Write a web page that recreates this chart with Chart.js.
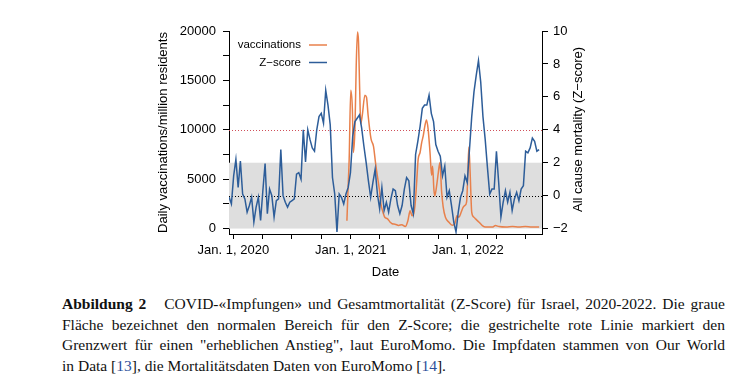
<!DOCTYPE html>
<html>
<head>
<meta charset="utf-8">
<script src="https://cdn.jsdelivr.net/npm/chart.js@4.4.1/dist/chart.umd.min.js"></script>
<style>
body { margin: 0; background: #fff; width: 730px; height: 376px; overflow: hidden; position: relative; }
#wrap { position: absolute; left: 0; top: 0; width: 730px; height: 290px; }
#cap { position: absolute; left: 62px; top: 294px; width: 663px; font-family: "Liberation Serif", serif; font-size: 15.5px; line-height: 20.7px; color: #111; }
#cap .l { text-align: justify; text-align-last: justify; white-space: nowrap; }
#cap .ref { color: #2a4f9a; }
</style>
</head>
<body>
<div id="wrap"><canvas id="mycanvas" width="730" height="290"></canvas></div>
<div id="cap">
<div class="l"><b>Abbildung 2</b>&nbsp;&nbsp; COVID-«Impfungen» und Gesamtmortalität (Z-Score) für Israel, 2020-2022. Die graue</div>
<div class="l">Fläche bezeichnet den normalen Bereich für den Z-Score; die gestrichelte rote Linie markiert den</div>
<div class="l">Grenzwert für einen "erheblichen Anstieg", laut EuroMomo. Die Impfdaten stammen von Our World</div>
<div>in Data [<span class="ref">13</span>], die Mortalitätsdaten Daten von EuroMomo [<span class="ref">14</span>].</div>
</div>
<script>
// days counted from Jan. 1, 2020
var xTickDays = [0, 91, 182, 274, 366, 456, 547, 639, 731, 821, 912];
var xTickLabels = ['Jan. 1, 2020', '', '', '', 'Jan. 1, 2021', '', '', '', 'Jan. 1, 2022', '', ''];
var leftTicks = [0, 2500, 5000, 7500, 10000, 12500, 15000, 17500, 20000];
var rightTicks = [-2, -1, 0, 1, 2, 3, 4, 5, 6, 7, 8, 9, 10];

// weekly Z-score, first week starts at day -13
var zFirstDay = -13;
var zValues = [
  -0.1, -0.5, 1.2, 2.2, 0.5, 2.1, 0.1, -0.2, -1.0, -0.6,
  -0.1, -1.6, -0.7, -0.1, -1.5, 0.3, 1.95, -1.1, 0.4, 0.0,
  -1.3, -0.3, -0.2, 2.8, 0.0, -0.4, -0.7, -0.4, -0.3, -0.2,
  1.3, 1.4, 1.0, 4.0, 2.05, 4.0, 3.4, 2.9, 2.7, 4.0,
  4.8, 5.0, 4.4, 6.4, 5.5, 4.3, 1.1, 0.1, -2.2, 0.1,
  -0.1, -0.5, 0.1, 0.5, 1.4, 3.6, 4.5, 4.7, 4.9, 4.1,
  3.0, 2.0, 0.9, -0.1, 0.8, 1.6, 0.1, -0.8, 0.5, -0.9,
  -0.4, -1.0, -0.2, 0.4, 0.3, -0.6, -1.1, -0.6, 0.4, 1.1,
  0.9, -0.6, -1.1, 2.5, 3.3, 4.2, 5.3, 5.5, 5.5, 6.1,
  5.0, 4.5, 3.1, 2.7, 2.4, 1.2, 1.8, -0.1, 0.3, -0.6,
  -1.6, -2.2, -1.0, -0.1, 0.3, 1.2, 0.8, 2.8, 4.8, 6.3,
  7.3, 8.2, 6.9, 4.8, 3.4, 1.7, 0.1, 0.4, 0.4, 2.7,
  0.8, -1.3, -0.4, 0.3, -0.4, 0.2, -0.9, -0.2, 0.2, -0.3,
  0.4, 0.6, 2.7, 2.6, 2.9, 3.5, 3.3, 2.7, 2.8
];

// daily vaccinations per million (7-day average)
var vaxDays = [
  354, 358, 361, 366, 371, 374, 379, 383, 387, 390,
  394, 397, 402, 410, 415, 420, 429, 437, 443, 449,
  455, 460, 465, 472, 480, 489, 495, 504, 515, 525,
  536, 544, 551, 557, 562, 566, 571, 576, 582, 587,
  592, 597, 602, 607, 613, 618, 621, 625, 628, 633,
  639, 644, 649, 654, 661, 672, 682, 690, 697, 703,
  710, 716, 722, 727, 731, 734, 738, 743, 750, 755,
  766, 776, 786, 807, 817, 828, 850, 870, 890, 910,
  930, 953
];
var vaxValues = [
  800, 4400, 7000, 14000, 12100, 7700, 10100, 16500, 19900, 19000,
  13800, 10600, 11500, 13500, 13300, 11500, 9100, 8300, 6700, 5300,
  4000, 2500, 1800, 1150, 1000, 650, 480, 450, 320, 400,
  200, 800, 1800, 1300, 1500, 2300, 4500, 7000, 7700, 8700,
  9400, 10400, 11000, 10100, 7700, 5400, 6300, 4000, 3300, 4200,
  5700, 6700, 3800, 2200, 1150, 640, 350, 470, 1300, 1150,
  1650, 2150, 2350, 2700, 5700, 8250, 5700, 1650, 1150, 980,
  640, 300, 150, 150, 300, 200, 150, 200, 150, 200,
  150, 150
];

var normalLow = -2, normalHigh = 2, baseLine = 0, alarmLine = 4;

var orange = '#e8804b';
var blue = '#2d5d99';
var fontFam = '"Liberation Sans", Arial, sans-serif';

var zData = [];
for (var i = 0; i < zValues.length; i++) {
  zData.push({ x: zFirstDay + 7 * i, y: zValues[i] });
}
var vaxData = [];
for (var j = 0; j < vaxDays.length; j++) {
  vaxData.push({ x: vaxDays[j], y: vaxValues[j] });
}

var extras = {
  id: 'extras',
  beforeDatasetsDraw: function(chart) {
    var c = chart.ctx, a = chart.chartArea, s = chart.scales.y1;
    c.save();
    c.fillStyle = '#dedede';
    var yTop = s.getPixelForValue(normalHigh), yBot = s.getPixelForValue(normalLow);
    c.fillRect(a.left, yTop, a.right - a.left, yBot - yTop);
    c.lineWidth = 1;
    c.setLineDash([1, 2]);
    c.strokeStyle = '#d0505a';
    var yr = Math.round(s.getPixelForValue(alarmLine)) + 0.5;
    c.beginPath(); c.moveTo(a.left, yr); c.lineTo(a.right, yr); c.stroke();
    c.strokeStyle = '#000';
    var yb = Math.round(s.getPixelForValue(baseLine)) + 0.5;
    c.beginPath(); c.moveTo(a.left, yb); c.lineTo(a.right, yb); c.stroke();
    c.restore();
  },
  afterDraw: function(chart) {
    var c = chart.ctx, a = chart.chartArea;
    c.save();
    // legend
    c.font = '11.5px ' + fontFam;
    c.fillStyle = '#000';
    c.textAlign = 'right';
    c.textBaseline = 'middle';
    var ds = chart.data.datasets;
    for (var k = 0; k < ds.length; k++) {
      var yy = a.top + 14 + k * 17.5;
      c.fillText(ds[k].label, a.left + 72, yy);
      c.strokeStyle = ds[k].borderColor;
      c.lineWidth = 1.5;
      c.beginPath(); c.moveTo(a.left + 80, yy); c.lineTo(a.left + 98, yy); c.stroke();
    }
    // right axis title, reading bottom to top
    c.font = '13px ' + fontFam;
    c.textAlign = 'center';
    c.translate(a.right + 36, (a.top + a.bottom) / 2 - 3);
    c.rotate(-Math.PI / 2);
    c.fillText('All cause mortality (Z\u2212score)', 0, 0);
    c.restore();
  }
};

var ctx = document.getElementById('mycanvas');
var lineChart = new Chart(ctx, {
  type: 'line',
  data: {
    datasets: [
      {
        label: 'vaccinations',
        data: vaxData,
        yAxisID: 'y',
        borderColor: orange,
        borderWidth: 1.5,
        pointRadius: 0,
        cubicInterpolationMode: 'monotone',
        order: 2
      },
      {
        label: 'Z\u2212score',
        data: zData,
        yAxisID: 'y1',
        borderColor: blue,
        borderWidth: 1.5,
        pointRadius: 0,
        tension: 0,
        order: 1
      }
    ]
  },
  options: {
    responsive: false,
    animation: false,
    layout: { padding: { left: 150, right: 138, top: 31, bottom: 6 } },
    plugins: { legend: { display: false }, tooltip: { enabled: false } },
    scales: {
      x: {
        type: 'linear',
        min: -13.5,
        max: 962,
        afterBuildTicks: function(s) { s.ticks = xTickDays.map(function(v) { return { value: v }; }); },
        afterFit: function(s) { s.height = 50; },
        grid: { drawOnChartArea: false, tickLength: 5, color: '#000' },
        border: { color: '#000' },
        ticks: {
          autoSkip: false, maxRotation: 0, color: '#000', padding: 4,
          font: { family: fontFam, size: 13 },
          callback: function(v, i) { return xTickLabels[i]; }
        },
        title: { display: true, text: 'Date', color: '#000', font: { family: fontFam, size: 13 }, padding: { top: 2, bottom: 4 } }
      },
      y: {
        position: 'left',
        min: -548,
        max: 20000,
        afterBuildTicks: function(s) { s.ticks = leftTicks.map(function(v) { return { value: v }; }); },
        afterFit: function(s) { s.width = 79; },
        grid: { drawOnChartArea: false, tickLength: 6, color: '#000' },
        border: { color: '#000' },
        ticks: {
          color: '#000', padding: 7,
          font: { family: fontFam, size: 13 },
          callback: function(v) { return v % 5000 === 0 ? String(v) : ''; }
        },
        title: { display: true, text: 'Daily vaccinations/million residents', color: '#000', font: { family: fontFam, size: 13 }, padding: { top: 6, bottom: 0 } }
      },
      y1: {
        position: 'right',
        min: -2.329,
        max: 10,
        afterBuildTicks: function(s) { s.ticks = rightTicks.map(function(v) { return { value: v }; }); },
        afterFit: function(s) { s.width = 50; },
        grid: { drawOnChartArea: false, tickLength: 6, color: '#000' },
        border: { color: '#000' },
        ticks: {
          color: '#000', padding: 5,
          font: { family: fontFam, size: 13 },
          callback: function(v) { return v % 2 === 0 ? String(v).replace('-', '\u2212') : ''; }
        }
      }
    }
  },
  plugins: [extras]
});
</script>
</body>
</html>
